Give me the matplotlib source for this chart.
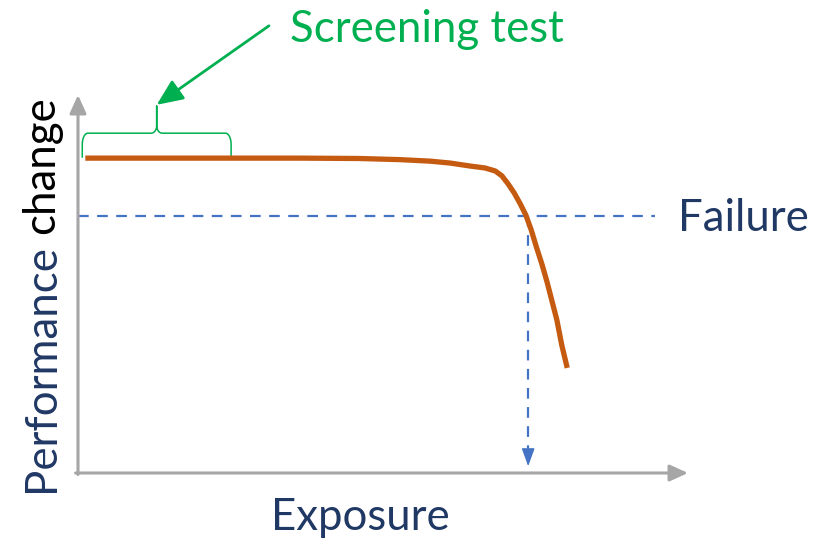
import matplotlib.pyplot as plt
import numpy as np

plt.rcParams['font.family'] = ['Lato', 'DejaVu Sans']

# performance curve (exposure 0..100, performance 0..100)
exposure = [1.2, 13.4, 24.9, 36.4, 46.2, 52.8, 57.7, 61.0, 64.3, 66.7, 68.4,
            69.5, 70.5, 71.5, 72.5, 73.4, 74.3, 75.2, 76.1, 76.9, 77.7, 78.5,
            79.3, 80.2]
performance = [83.3, 83.3, 83.3, 83.3, 83.2, 82.9, 82.5, 82.0, 81.2, 80.7, 79.9,
               78.6, 76.5, 74.1, 71.2, 68.3, 64.3, 59.5, 55.0, 50.5, 45.5, 40.5,
               33.9, 27.8]
failure_level = 68.0
failure_exposure = 73.8
screening_start = 0.7
screening_end = 25.1

navy = '#203864'
orange = '#C55A11'
green = '#00B050'
blue = '#4472C4'
grey = '#A6A6A6'
fs = 31.5

fig = plt.figure(figsize=(8.25, 5.4), dpi=100)
ax = fig.add_axes([78 / 825, 67 / 540, 610 / 825, 378 / 540])
ax.set_xlim(0, 100)
ax.set_ylim(0, 100)
ax.axis('off')

# axes with arrow heads
arr = dict(arrowstyle='-|>,head_length=1.1,head_width=0.5', color=grey, lw=2.2,
           shrinkA=0, shrinkB=0, mutation_scale=10)
ax.annotate('', xy=(1.0, 0), xytext=(-0.004, 0), xycoords='axes fraction',
            arrowprops=arr, annotation_clip=False)
ax.annotate('', xy=(0, 1.0), xytext=(0, -0.004), xycoords='axes fraction',
            arrowprops=arr, annotation_clip=False)

# failure threshold
ax.plot([0, 94.6], [failure_level, failure_level], color=blue, lw=1.6,
        dashes=(4.8, 3.8), clip_on=False)
ax.plot([failure_exposure, failure_exposure], [failure_level, 6.5], color=blue,
        lw=1.6, dashes=(4.8, 3.8))
ax.annotate('', xy=(failure_exposure, 1.8), xytext=(failure_exposure, 6.5),
            arrowprops=dict(arrowstyle='-|>,head_length=1.1,head_width=0.4',
                            color=blue, lw=1.0, shrinkA=0, shrinkB=0,
                            mutation_scale=10))

# curve
ax.plot(exposure, performance, color=orange, lw=3.8, solid_capstyle='butt',
        solid_joinstyle='round', zorder=3)


# curly brace over the screening range
def brace(x0, x1, yb, ym, yt, rx=0.9, ry=3.0, ry2=2.0):
    xm = (x0 + x1) / 2
    t = np.linspace(0, np.pi / 2, 10)
    xs = [x0]
    ys = [yb]
    xs += list(x0 + rx - rx * np.cos(t))
    ys += list(ym - ry + ry * np.sin(t))
    xs += list(xm - rx + rx * np.sin(t))
    ys += list(ym + ry2 - ry2 * np.cos(t))
    xs += [xm]
    ys += [yt]
    xs += list(xm + rx - rx * np.sin(t[::-1]))
    ys += list(ym + ry2 - ry2 * np.cos(t[::-1]))
    xs += list(x1 - rx + rx * np.cos(t[::-1]))
    ys += list(ym - ry + ry * np.sin(t[::-1]))
    xs += [x1]
    ys += [yb]
    return xs, ys


bx, by = brace(screening_start, screening_end, 83.6, 89.9, 97.1)
ax.plot(bx, by, color=green, lw=1.1, clip_on=False)

ax.annotate('', xy=(12.9, 97.4), xytext=(31.3, 118.3),
            arrowprops=dict(arrowstyle='-|>,head_length=1.6,head_width=0.7',
                            color=green, lw=2.0, shrinkA=0, shrinkB=0,
                            mutation_scale=10),
            annotation_clip=False)

ax.text(34.8, 114.0, 'Screening test', color=green, fontsize=fs,
        ha='left', va='baseline', clip_on=False)
ax.text(98.4, 64.0, 'Failure', color=navy, fontsize=fs,
        ha='left', va='baseline', clip_on=False)
fig.text(360 / 825, 10 / 540, 'Exposure', color=navy, fontsize=fs,
         ha='center', va='baseline')

perf = fig.text(42 / 825, 48 / 540, 'Performance', color=navy, fontsize=fs,
                rotation=90, ha='center', va='bottom')
ax.annotate('change', xy=(0.5, 1.0), xycoords=perf, xytext=(0, 7),
            textcoords='offset points', color='black', fontsize=fs,
            rotation=90, ha='center', va='bottom')

fig.savefig('out.png', dpi=100)
